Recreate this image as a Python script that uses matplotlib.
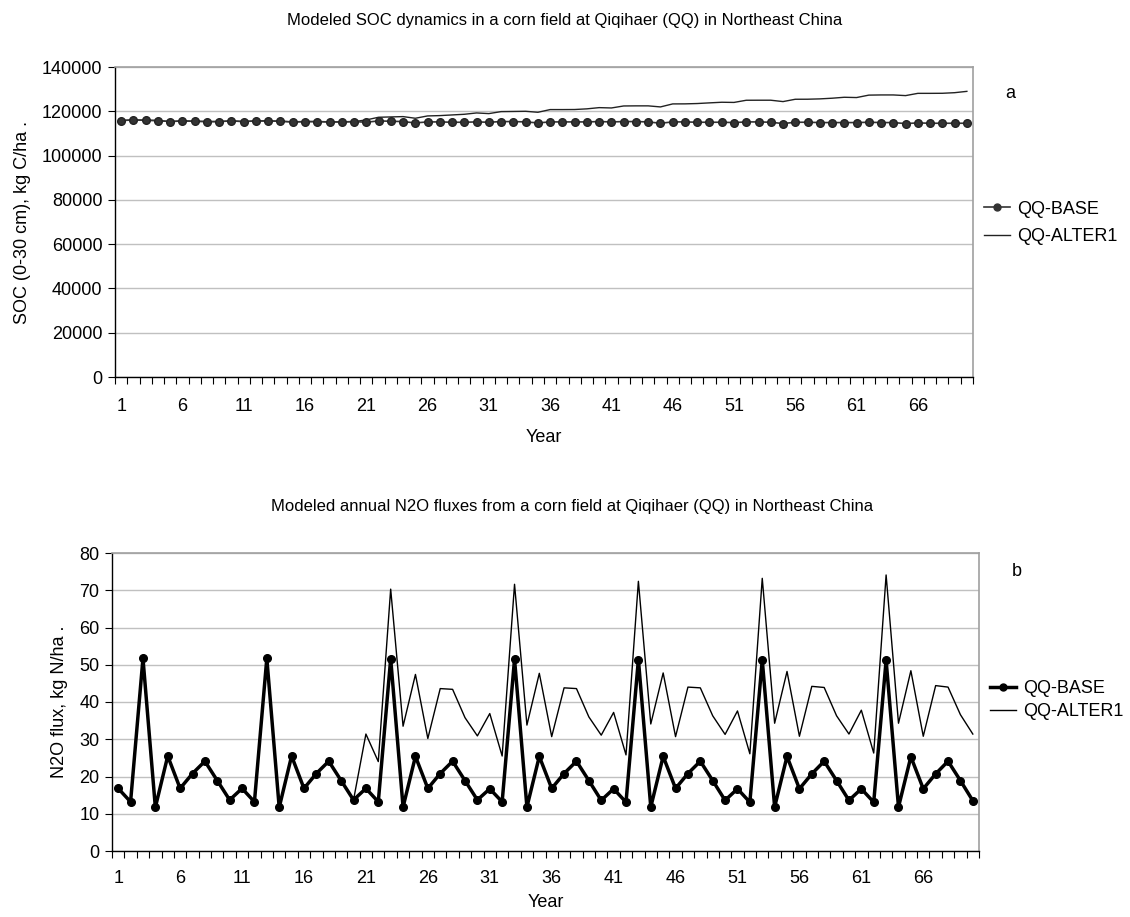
import matplotlib
matplotlib.use("Agg")
import matplotlib.pyplot as plt
from matplotlib.ticker import FixedLocator, FixedFormatter
from matplotlib.lines import Line2D

plt.rcParams['font.family'] = ['Liberation Sans', 'DejaVu Sans']

years = list(range(1, 71))
year_labels = ["1", "6", "11", "16", "21", "26", "31", "36", "41", "46", "51", "56", "61", "66"]

soc_base = [115800, 116100, 115950, 115800, 115350, 115650, 115500, 115350, 115350, 115650,
            115350, 115650, 115650, 115500, 115200, 115350, 115350, 115200, 115200, 115350,
            115050, 115650, 115500, 115350, 114750, 115200, 115200, 115050, 115050, 115200,
            115050, 115350, 115350, 115200, 114750, 115200, 115200, 115200, 115200, 115350,
            115200, 115350, 115350, 115200, 114600, 115200, 115200, 115050, 115050, 115050,
            114900, 115200, 115200, 115050, 114450, 115050, 115050, 114900, 114900, 114900,
            114900, 115050, 114900, 114900, 114450, 114750, 114600, 114600, 114600, 114600]

soc_alter1 = [115800, 116100, 115950, 115800, 115350, 115650, 115500, 115350, 115350, 115650,
              115350, 115650, 115650, 115500, 115200, 115350, 115350, 115200, 115200, 115350,
              116100, 117300, 117450, 117600, 116850, 117900, 118050, 118350, 118650, 119250,
              118950, 119850, 119920, 120000, 119550, 120770, 120770, 120800, 121100, 121650,
              121500, 122400, 122450, 122450, 121970, 123330, 123350, 123500, 123800, 124080,
              124000, 124980, 125000, 125000, 124380, 125430, 125450, 125600, 125900, 126330,
              126200, 127300, 127380, 127380, 127080, 128100, 128100, 128130, 128400, 129000]

n2o_base = [16.8, 13.2, 51.7, 11.7, 25.5, 16.8, 20.8, 24.1, 18.9, 13.7,
            16.8, 13.2, 51.7, 11.7, 25.5, 16.8, 20.8, 24.1, 18.9, 13.7,
            16.8, 13.2, 51.6, 11.8, 25.4, 16.8, 20.8, 24.1, 18.9, 13.7,
            16.7, 13.2, 51.5, 11.8, 25.4, 16.8, 20.8, 24.1, 18.9, 13.6,
            16.7, 13.1, 51.4, 11.8, 25.4, 16.8, 20.8, 24.1, 18.9, 13.6,
            16.7, 13.1, 51.3, 11.8, 25.4, 16.7, 20.7, 24.1, 18.9, 13.6,
            16.7, 13.1, 51.2, 11.8, 25.3, 16.7, 20.7, 24.1, 18.9, 13.5]

n2o_alter1 = [16.8, 13.2, 51.7, 11.7, 25.5, 16.8, 20.8, 24.1, 18.9, 13.7,
              16.8, 13.2, 51.7, 11.7, 25.5, 16.8, 20.8, 24.1, 18.9, 13.7,
              31.4, 24.0, 70.3, 33.5, 47.4, 30.2, 43.6, 43.4, 35.8, 30.9,
              36.9, 25.5, 71.6, 33.8, 47.7, 30.7, 43.8, 43.6, 36.0, 31.1,
              37.2, 25.8, 72.4, 34.1, 47.8, 30.7, 44.0, 43.8, 36.3, 31.3,
              37.6, 26.1, 73.2, 34.3, 48.2, 30.8, 44.2, 43.9, 36.3, 31.4,
              37.8, 26.3, 74.1, 34.3, 48.4, 30.8, 44.4, 44.0, 36.6, 31.4]

W, H = 1130, 917
FS = 13
fig = plt.figure(figsize=(W / 100, H / 100), dpi=100)

def box(l, r, t, b):
    return [l / W, 1 - b / H, (r - l) / W, (b - t) / H]

ax1 = fig.add_axes(box(115, 973, 67, 377))
ax2 = fig.add_axes(box(112, 979, 553, 851))

def style(ax, ymax, ystep, xpad, lpad):
    ax.set_xlim(0.5, 70.5)
    ax.set_ylim(0, ymax)
    ax.set_yticks([ystep * i for i in range(int(round(ymax / ystep)) + 1)])
    ax.grid(axis='y', color='#c0c0c0', linewidth=1.0)
    ax.set_axisbelow(True)
    ax.xaxis.set_major_locator(FixedLocator([int(s) for s in year_labels]))
    ax.xaxis.set_major_formatter(FixedFormatter(year_labels))
    ax.xaxis.set_minor_locator(FixedLocator([i + 0.5 for i in range(0, 71)]))
    ax.tick_params(axis='x', which='major', length=0, pad=xpad, labelsize=FS)
    ax.tick_params(axis='x', which='minor', length=5, width=0.8, direction='out')
    ax.tick_params(axis='y', which='major', length=5, width=0.8, direction='out', labelsize=FS, pad=4)
    for s in ['top', 'right']:
        ax.spines[s].set_color('#a0a0a0')
        ax.spines[s].set_linewidth(1.2)
    for s in ['left', 'bottom']:
        ax.spines[s].set_color('black')
        ax.spines[s].set_linewidth(1.0)
    ax.set_xlabel('Year', fontsize=FS, labelpad=lpad)

style(ax1, 140000, 20000, 15, 10)
style(ax2, 80, 10, 14, 5)

ax1.plot(years, soc_alter1, color='#222222', linewidth=1.0, zorder=3)
ax1.plot(years, soc_base, color='#333333', linewidth=1.2, marker='o', markersize=5.5,
         markerfacecolor='#333333', markeredgecolor='#222222', zorder=4)

ax2.plot(years, n2o_alter1, color='black', linewidth=1.0, zorder=3)
ax2.plot(years, n2o_base, color='black', linewidth=2.5, marker='o', markersize=5.5, zorder=4)

ax1.set_ylabel('SOC (0-30 cm), kg C/ha .', fontsize=FS, labelpad=8)
ax2.set_ylabel('N2O flux, kg N/ha .', fontsize=FS, labelpad=8)

fig.text(565 / W, 1 - 20 / H, 'Modeled SOC dynamics in a corn field at Qiqihaer (QQ) in Northeast China',
         ha='center', va='center', fontsize=12)
fig.text(572 / W, 1 - 506 / H, 'Modeled annual N2O fluxes from a corn field at Qiqihaer (QQ) in Northeast China',
         ha='center', va='center', fontsize=12)
fig.text(1010 / W, 1 - 93 / H, 'a', ha='center', va='center', fontsize=FS)
fig.text(1017 / W, 1 - 571 / H, 'b', ha='center', va='center', fontsize=FS)

h1 = [Line2D([], [], color='#333333', linewidth=1.2, marker='o', markersize=5, markerfacecolor='#333333'),
      Line2D([], [], color='#222222', linewidth=1.0)]
fig.legend(h1, ['QQ-BASE', 'QQ-ALTER1'], loc='center left', bbox_to_anchor=(984 / W, 1 - 223 / H),
           frameon=False, fontsize=FS, handlelength=1.45, handletextpad=0.4, labelspacing=0.6,
           borderpad=0, borderaxespad=0)
h2 = [Line2D([], [], color='black', linewidth=2.5, marker='o', markersize=5),
      Line2D([], [], color='black', linewidth=1.0)]
fig.legend(h2, ['QQ-BASE', 'QQ-ALTER1'], loc='center left', bbox_to_anchor=(990 / W, 1 - 700 / H),
           frameon=False, fontsize=FS, handlelength=1.45, handletextpad=0.4, labelspacing=0.35,
           borderpad=0, borderaxespad=0)

fig.savefig('out.png', dpi=100)
